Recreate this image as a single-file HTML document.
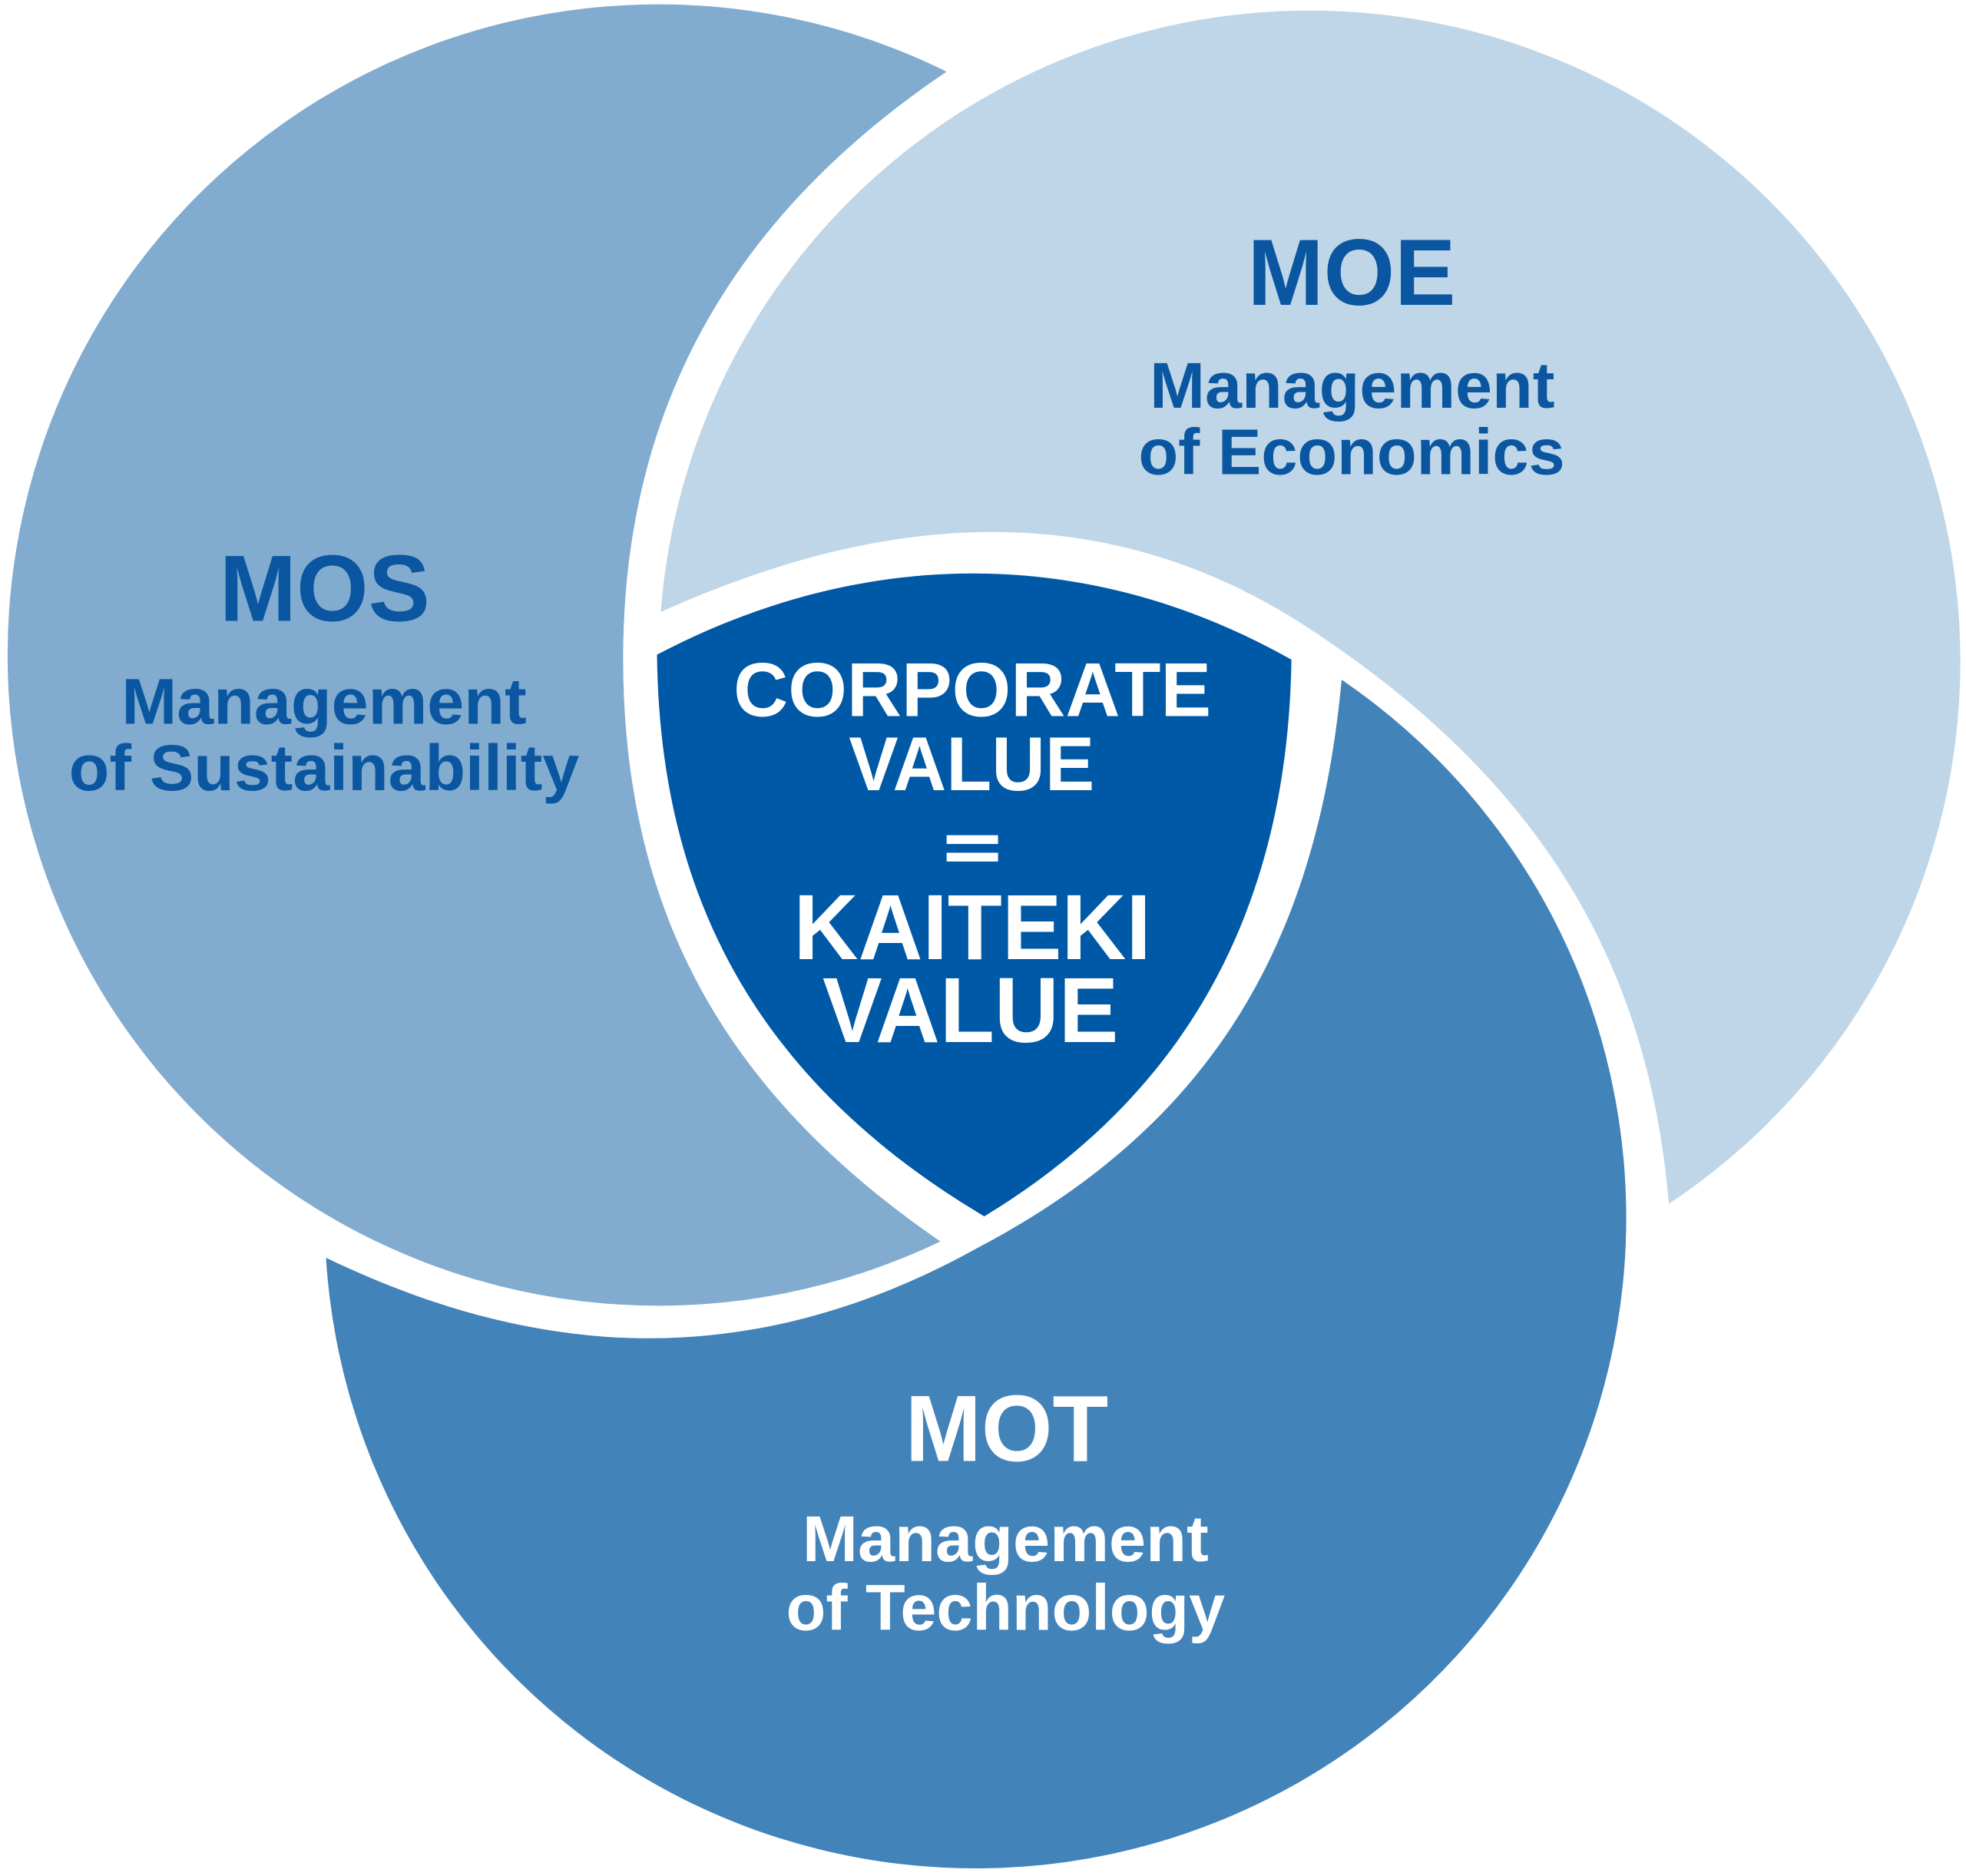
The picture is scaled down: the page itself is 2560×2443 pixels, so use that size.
<!DOCTYPE html>
<html><head><meta charset="utf-8"><style>
html,body{margin:0;padding:0;background:#fff;}
svg{display:block;}
text{font-family:"Liberation Sans",Arial,sans-serif;font-weight:bold;text-anchor:start;}
</style></head><body>
<svg width="2560" height="2443" viewBox="0 0 1568 1496" xmlns="http://www.w3.org/2000/svg">
<rect width="1568" height="1496" fill="#fff"/>
<path d="M527,488 C700,410 880,390 1050,505 C1230,625 1315,770 1331,960 A519 519 0 1 0 527,488 Z" fill="#bfd6e8"/>
<path d="M755,57 A519 519 0 1 0 750,990 C590,880 497,740 497,525 C497,330 580,175 755,57 Z" fill="#81acd0"/>
<path d="M260,1003 C430,1085 600,1095 780,995 C960,900 1050,760 1070,542 A519 519 0 1 1 260,1003 Z" fill="#4283ba"/>
<path d="M524,522 C680,440 860,430 1030,526 C1027,720 950,870 785,970 C600,860 526,710 524,522 Z" fill="#0059a6"/>

<g fill="#0a56a0">
<text x="175" y="495" font-size="75" textLength="168" lengthAdjust="spacingAndGlyphs">MOS</text>
<text x="97" y="577" font-size="52" textLength="323" lengthAdjust="spacingAndGlyphs">Management</text>
<text x="55" y="630" font-size="52" textLength="407" lengthAdjust="spacingAndGlyphs">of Sustainability</text>
<text x="995" y="243" font-size="75" textLength="166" lengthAdjust="spacingAndGlyphs">MOE</text>
<text x="917" y="325" font-size="52" textLength="323" lengthAdjust="spacingAndGlyphs">Management</text>
<text x="908" y="378" font-size="52" textLength="340" lengthAdjust="spacingAndGlyphs">of Economics</text>
</g>
<g fill="#fff">
<text x="722" y="1165" font-size="75" textLength="162" lengthAdjust="spacingAndGlyphs">MOT</text>
<text x="640" y="1245" font-size="52" textLength="324" lengthAdjust="spacingAndGlyphs">Management</text>
<text x="627" y="1300" font-size="52" textLength="350" lengthAdjust="spacingAndGlyphs">of Technology</text>
<text x="585" y="571" font-size="61" textLength="381" lengthAdjust="spacingAndGlyphs">CORPORATE</text>
<text x="677" y="630" font-size="61" textLength="196" lengthAdjust="spacingAndGlyphs">VALUE</text>
<rect x="755" y="666" width="41" height="7"/>
<rect x="755" y="680" width="41" height="7"/>
<text x="633" y="765" font-size="74" textLength="285" lengthAdjust="spacingAndGlyphs">KAITEKI</text>
<text x="656" y="831" font-size="74" textLength="236" lengthAdjust="spacingAndGlyphs">VALUE</text>
</g>
</svg>
</body></html>
